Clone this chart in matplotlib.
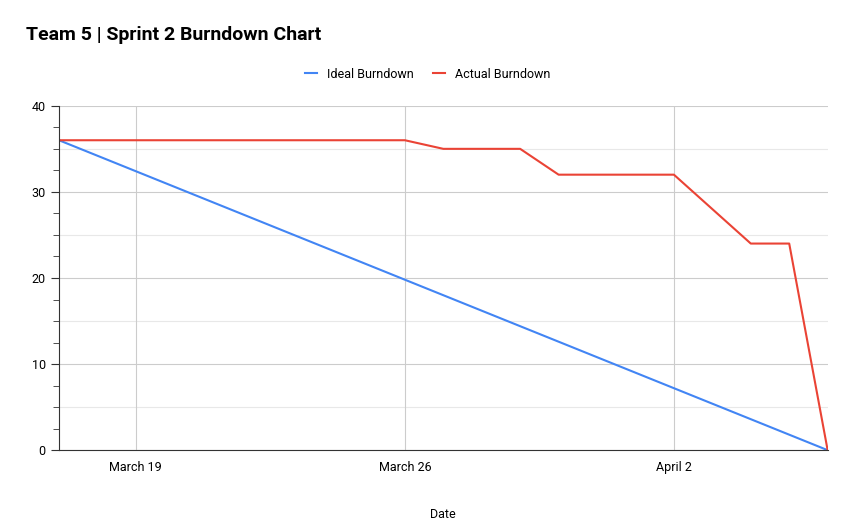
import matplotlib
matplotlib.use("Agg")
import matplotlib.pyplot as plt
import matplotlib.dates as mdates
import numpy as np
from datetime import date

ideal_dates = [date(2024,3,17), date(2024,4,6)]
ideal_vals = [36, 0]
actual_dates = [date(2024,3,17), date(2024,3,26), date(2024,3,27), date(2024,3,29),
                date(2024,3,30), date(2024,4,2), date(2024,4,4), date(2024,4,5), date(2024,4,6)]
actual_vals = [36, 36, 35, 35, 32, 32, 24, 24, 0]
xticks = [date(2024,3,19), date(2024,3,26), date(2024,4,2)]
xlabels = ["March 19", "March 26", "April 2"]

plt.rcParams['font.family'] = ['Roboto', 'DejaVu Sans']
fig = plt.figure(figsize=(8.55, 5.29), dpi=100)
ax = fig.add_axes([0.069, 0.149, 0.899, 0.651])
ax.plot(ideal_dates, ideal_vals, color='#4285F4', lw=1.5, label='Ideal Burndown')
ax.plot(actual_dates, actual_vals, color='#EA4335', lw=1.5, label='Actual Burndown')
ax.set_xlim(date(2024,3,17), date(2024,4,6))
ax.set_ylim(0, 40)
ax.set_yticks([0,10,20,30,40])
ax.set_yticks(np.arange(0, 40.1, 2.5), minor=True)
ax.set_xticks(xticks)
ax.set_xticklabels(xlabels)
ax.grid(axis='y', which='major', color='#cccccc', lw=0.8)
ax.grid(axis='x', which='major', color='#cccccc', lw=0.8)
for v in [5,15,25,35]:
    ax.axhline(v, color='#e8e8e8', lw=0.8, zorder=0)
for s in ['top','right']:
    ax.spines[s].set_visible(False)
ax.spines['left'].set_color('#333333')
ax.spines['bottom'].set_color('#333333')
ax.tick_params(axis='y', which='major', length=6, labelsize=9, color='#333333')
ax.tick_params(axis='y', which='minor', length=4, color='#333333')
ax.tick_params(axis='x', length=0, labelsize=9, pad=8)
ax.set_xlabel('Date', fontsize=9, labelpad=24)
ax.set_axisbelow(True)
fig.text(0.03, 0.925, 'Team 5 | Sprint 2 Burndown Chart', fontsize=14, fontweight='bold')
fig.legend(loc='center', bbox_to_anchor=(0.5, 0.86), ncol=2, frameon=False, fontsize=9,
           handlelength=1.0, columnspacing=1.5)
fig.savefig('out.png', dpi=100)
